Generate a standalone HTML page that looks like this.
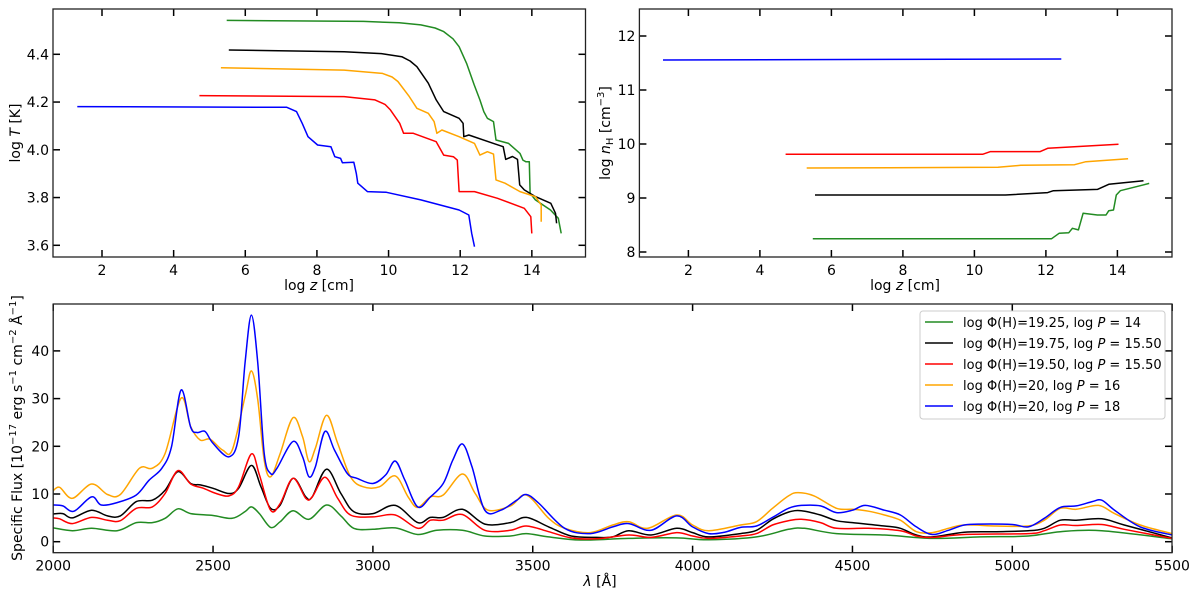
<!DOCTYPE html>
<html><head><meta charset="utf-8"><style>
body{margin:0;background:#fff;}
svg{display:block;font-family:"DejaVu Sans","Liberation Sans",sans-serif;}
.tk{font-size:14px;fill:#000;}
.lab{font-size:14px;fill:#000;}
</style></head><body>
<svg id="fig" width="1200" height="594" viewBox="0 0 1200 594" xmlns="http://www.w3.org/2000/svg">
<g id="p1"></g>
<g id="p2"></g>
<g id="p3"></g>
<g id="legend">
<rect x="920" y="311" width="245" height="108" fill="#fff" stroke="#ccc" rx="3"/>
</g>
</svg>
<script>
// ---- Panel 1: log T vs log z ----
const tGreenX=[5.48,9.3,10.3,10.9,11.3,11.54,11.8,11.97,12.18,12.39,12.55,12.66,12.76,12.93,13.0,13.35,13.67,13.75,13.83,13.93,13.95,14.1,14.52,14.74,14.82];
const tGreenY=[4.542,4.538,4.532,4.523,4.51,4.495,4.465,4.432,4.362,4.272,4.209,4.16,4.132,4.118,4.041,4.027,3.985,3.957,3.95,3.95,3.818,3.79,3.748,3.713,3.65];
const tBlackX=[5.54,8.76,9.8,10.37,10.6,10.79,11.11,11.33,11.54,11.97,12.08,12.1,12.24,12.93,13.2,13.27,13.46,13.6,13.66,13.79,14.1,14.53,14.66,14.69];
const tBlackY=[4.418,4.411,4.403,4.39,4.372,4.348,4.279,4.209,4.16,4.132,4.111,4.055,4.062,4.027,4.013,3.96,3.972,3.96,3.853,3.832,3.804,3.776,3.734,3.692];
const tOrangeX=[5.32,8.76,9.83,10.1,10.26,10.58,10.79,11.11,11.27,11.35,11.49,11.97,12.4,12.55,12.76,12.93,13.0,13.25,13.67,14.1,14.26,14.26];
const tOrangeY=[4.344,4.334,4.32,4.305,4.286,4.223,4.174,4.153,4.118,4.069,4.083,4.055,4.027,3.978,3.992,3.982,3.874,3.86,3.825,3.804,3.769,3.699];
const tRedX=[4.72,8.76,9.62,9.9,10.05,10.31,10.42,10.69,11.33,11.54,11.81,11.92,11.97,12.4,13.04,13.79,13.97,14.0];
const tRedY=[4.227,4.223,4.209,4.19,4.167,4.111,4.069,4.069,4.034,3.978,3.971,3.957,3.825,3.825,3.797,3.755,3.72,3.65];
const tBlueX=[1.31,7.16,7.43,7.59,7.75,8.02,8.39,8.5,8.66,8.71,9.03,9.1,9.14,9.41,9.94,10.9,11.97,12.24,12.32,12.4];
const tBlueY=[4.181,4.178,4.16,4.111,4.055,4.02,4.013,3.971,3.964,3.946,3.948,3.901,3.86,3.825,3.822,3.79,3.748,3.727,3.65,3.594];
const p1XTicks=[2,4,6,8,10,12,14];
const p1YTicks=[3.6,3.8,4.0,4.2,4.4];
// ---- Panel 2: log nH vs log z ----
const nBlueX=[1.29,12.43];const nBlueY=[11.556,11.574];
const nRedX=[4.72,10.23,10.45,11.84,12.05,14.03];const nRedY=[9.81,9.81,9.86,9.86,9.92,9.994];
const nOrangeX=[5.31,10.66,11.3,12.8,13.12,14.3];const nOrangeY=[9.556,9.568,9.605,9.617,9.673,9.728];
const nBlackX=[5.54,10.87,12.05,12.21,13.44,13.76,14.73];const nBlackY=[9.056,9.056,9.1,9.136,9.16,9.253,9.32];
const nGreenX=[5.48,12.16,12.37,12.64,12.74,12.91,13.04,13.44,13.68,13.76,13.89,13.97,14.08,14.89];
const nGreenY=[8.247,8.247,8.346,8.358,8.438,8.41,8.716,8.685,8.685,8.765,8.778,9.056,9.136,9.27];
const p2XTicks=[2,4,6,8,10,12,14];
const p2YTicks=[8,9,10,11,12];
// ---- Panel 3: flux spectra ----
const fBlueL=[2000,2030,2065,2120,2150,2200,2260,2300,2340,2370,2400,2430,2450,2475,2500,2550,2580,2600,2620,2640,2660,2680,2700,2750,2780,2800,2820,2850,2880,2920,2950,3000,3040,3070,3100,3140,3180,3220,3250,3280,3310,3350,3400,3450,3480,3520,3600,3680,3750,3800,3870,3950,4000,4050,4100,4150,4200,4250,4300,4340,4400,4450,4500,4540,4600,4650,4700,4750,4800,4850,4900,5000,5050,5100,5150,5200,5250,5280,5320,5400,5500];
const fBlueV=[7.7,7.5,6.4,9.4,7.7,8.2,9.8,12.9,15.4,19.9,31.8,24,22.9,23.1,20.6,17.8,22,37.4,47.5,37.4,18.5,14.3,15.4,21,17.8,13.6,15.7,23.1,19.2,14.3,13.3,12.2,14,16.9,12.9,7.3,9.4,12.2,17.1,20.5,15.7,6.6,6.6,8.7,9.9,8,2.8,1.7,3.1,3.8,2.4,5.4,3.1,1.7,2,3.0,3.3,5.1,7,7.6,7.5,6.1,6.6,7.6,6.6,5.6,3.1,1.5,2.4,3.5,3.7,3.6,3.1,4.9,7.2,7.5,8.4,8.7,6.6,3.1,1.4];
const fOrangeL=[2000,2020,2060,2120,2170,2210,2270,2310,2350,2400,2430,2460,2490,2530,2560,2600,2620,2640,2660,2680,2710,2750,2780,2800,2820,2855,2890,2930,2970,3020,3070,3110,3140,3180,3220,3280,3320,3360,3430,3480,3550,3600,3680,3750,3800,3860,3950,4000,4050,4150,4200,4250,4300,4330,4380,4450,4500,4550,4600,4650,4700,4750,4800,4850,4950,5050,5100,5150,5200,5270,5320,5400,5500];
const fOrangeV=[10.7,11.4,9.1,12.1,9.9,9.9,15.4,15.4,18.5,30.1,24.1,21.3,21.5,19.2,19.2,30.4,35.8,29.7,17.1,13.6,18.5,26,22,16.8,19.6,26.5,20.6,13.6,11.5,11.5,13.8,9.4,7.2,9.4,9.8,14.2,10.1,6.6,7.5,9.8,4.9,2.8,1.9,3.5,4.2,2.8,5.6,3.5,2.3,3.5,4.2,7,9.6,10.3,9.6,7,6.8,6.4,5.6,4.5,2.1,1.9,2.8,3.5,3.3,3.3,4.5,7,6.8,7.6,5.9,3.5,1.7];
const fBlackL=[2000,2030,2060,2120,2170,2210,2260,2310,2350,2390,2430,2460,2500,2550,2580,2620,2650,2680,2710,2750,2790,2810,2855,2900,2940,3000,3070,3140,3180,3220,3280,3350,3430,3480,3550,3620,3700,3750,3800,3870,3950,4000,4050,4150,4200,4250,4300,4340,4400,4450,4500,4600,4650,4700,4750,4850,4950,5050,5100,5150,5200,5280,5350,5500];
const fBlackV=[5.8,5.9,5,6.6,5.4,5.4,8.4,8.7,10.8,14.7,12.2,11.9,11.2,10.1,11.2,16,11.5,7,7.7,13.3,9.4,9.4,15.2,10.1,6.3,5.9,7.6,4,5.1,5.1,6.8,3.7,4,5.1,3.1,1.2,0.9,1,2.3,1.4,2.8,1.9,1,1.7,2.4,4.7,6.2,6.5,5.6,4.4,4,3.3,2.8,1.4,1,2,2.1,2.3,2.8,4.5,4.5,4.8,3.5,0.8];
const fRedL=[2000,2020,2060,2120,2170,2210,2260,2310,2350,2390,2430,2470,2510,2550,2580,2620,2645,2680,2710,2750,2790,2810,2850,2890,2930,3000,3070,3140,3180,3220,3280,3350,3430,3480,3550,3620,3700,3800,3870,3950,4000,4050,4150,4200,4250,4300,4340,4400,4450,4550,4650,4700,4750,4850,5050,5100,5150,5200,5280,5350,5500];
const fRedV=[5,4.8,3.8,5.1,4.5,4.4,7,7.3,10.1,14.9,12.1,11.2,10.1,9.6,11.5,18.4,14,6.6,8,13.3,9.1,9.4,13.5,9.1,5.6,5.2,5.6,2.8,4.5,4.5,5.7,2.4,2.4,3.3,2.1,0.8,0.6,1.4,0.9,1.9,1.2,0.7,1.2,1.7,3.5,4.4,4.7,4,2.8,2.8,2.3,1.2,0.9,1.5,1.7,2.3,3.5,3.4,3.6,2.6,0.7];
const fGreenL=[2000,2060,2120,2200,2260,2310,2350,2390,2430,2500,2560,2600,2620,2645,2680,2710,2750,2800,2855,2900,2940,3000,3070,3140,3200,3280,3350,3430,3480,3550,3650,3800,3950,4050,4200,4300,4350,4450,4600,4750,4900,5050,5150,5280,5500];
const fGreenV=[2.9,2.3,2.8,2.3,4,4,4.9,6.9,5.9,5.5,4.9,6.3,7.3,5.9,3,4.2,6.5,4.7,7.7,5.4,2.8,2.6,2.9,1.5,2.4,2.4,1.2,1.2,1.7,1,0.35,0.7,0.8,0.4,1,2.6,2.8,1.7,1.4,0.7,1,1.2,2.1,2.3,0.6];
const p3XTicks=[2000,2500,3000,3500,4000,4500,5000,5500];
const p3YTicks=[0,10,20,30,40];
const legendLabels=[["19.25","14"],["19.75","15.50"],["19.50","15.50"],["20","16"],["20","18"]];
const legendColors=["#228b22","#000","#ff0000","#ffa500","#0000ff"];

const NS="http://www.w3.org/2000/svg";
function mk(parent,tag,attrs){const e=document.createElementNS(NS,tag);for(const k in attrs)e.setAttribute(k,attrs[k]);parent.appendChild(e);return e;}
function frame(g,box,sx,sy,xt,yt,xfmt,yfmt,name){
  const clip=mk(g,'clipPath',{id:'c'+name});mk(clip,'rect',{x:box.l,y:box.t,width:box.r-box.l,height:box.b-box.t});
  const xa=mk(g,'g',{});
  
  
  xt.forEach(v=>{const x=sx(v);
    mk(xa,'line',{x1:x,x2:x,y1:box.b,y2:box.b-7,stroke:'#000','stroke-width':1.5});
    mk(xa,'line',{x1:x,x2:x,y1:box.t,y2:box.t+7,stroke:'#000','stroke-width':1.5});
    const t=mk(xa,'text',{x:x,y:box.b+18,'text-anchor':'middle',class:'tk'});t.textContent=xfmt(v);});
  const ya=mk(g,'g',{});
  
  
  yt.forEach(v=>{const y=sy(v);
    mk(ya,'line',{x1:box.l,x2:box.l+7,y1:y,y2:y,stroke:'#000','stroke-width':1.5});
    mk(ya,'line',{x1:box.r,x2:box.r-7,y1:y,y2:y,stroke:'#000','stroke-width':1.5});
    const t=mk(ya,'text',{x:box.l-4,y:y+5,'text-anchor':'end',class:'tk'});t.textContent=yfmt(v);});
}
function border(g,box){mk(g,'rect',{x:box.l,y:box.t,width:box.r-box.l,height:box.b-box.t,fill:'none',stroke:'#222','stroke-width':1.3});}
function poly(g,xs,ys,sx,sy,color,name,clipId){
  const pts=xs.map((x,i)=>sx(x).toFixed(1)+','+sy(ys[i]).toFixed(1)).join(' ');
  const p=mk(g,'polyline',{points:pts,fill:'none',stroke:color,'stroke-width':1.5,'stroke-linejoin':'round','clip-path':'url(#'+clipId+')'});
  
  
}
function smooth(g,xs,ys,sx,sy,color,name,clipId){
  const P=xs.map((x,i)=>[sx(x),sy(ys[i])]);
  let d='M'+P[0][0].toFixed(1)+','+P[0][1].toFixed(1);
  for(let i=0;i<P.length-1;i++){
    const p0=P[Math.max(0,i-1)],p1=P[i],p2=P[i+1],p3=P[Math.min(P.length-1,i+2)];
    const c1=[p1[0]+(p2[0]-p0[0])/6,p1[1]+(p2[1]-p0[1])/6];
    const c2=[p2[0]-(p3[0]-p1[0])/6,p2[1]-(p3[1]-p1[1])/6];
    d+=' C'+c1[0].toFixed(1)+','+c1[1].toFixed(1)+' '+c2[0].toFixed(1)+','+c2[1].toFixed(1)+' '+p2[0].toFixed(1)+','+p2[1].toFixed(1);
  }
  const p=mk(g,'path',{d:d,fill:'none',stroke:color,'stroke-width':1.5,'clip-path':'url(#'+clipId+')'});
  
  
}
// Panel 1
(function(){const g=document.getElementById('p1');const box={l:53,r:585.5,t:9,b:257};
 const sx=v=>box.l+(v-0.632)*35.82, sy=v=>54.3-(v-4.4)*238.75;
 frame(g,box,sx,sy,p1XTicks,p1YTicks,v=>String(v),v=>v.toFixed(1),'temp');
 poly(g,tGreenX,tGreenY,sx,sy,'#228b22','temp-line-green','ctemp');
 poly(g,tBlackX,tBlackY,sx,sy,'#000','temp-line-black','ctemp');
 poly(g,tOrangeX,tOrangeY,sx,sy,'#ffa500','temp-line-orange','ctemp');
 poly(g,tRedX,tRedY,sx,sy,'#ff0000','temp-line-red','ctemp');
 poly(g,tBlueX,tBlueY,sx,sy,'#0000ff','temp-line-blue','ctemp');
 border(g,box);
 const xl=mk(g,'text',{x:319,y:290,'text-anchor':'middle',class:'lab'});xl.innerHTML='log <tspan font-style="italic">z</tspan> [cm]';
 
 const yl=mk(g,'text',{x:0,y:0,'text-anchor':'middle',class:'lab',transform:'translate(20,133) rotate(-90)'});yl.innerHTML='log <tspan font-style="italic">T</tspan> [K]';
 
})();
// Panel 2
(function(){const g=document.getElementById('p2');const box={l:639.4,r:1172,t:9,b:257};
 const sx=v=>688.4+(v-2)*35.75, sy=v=>252-(v-8)*54;
 frame(g,box,sx,sy,p2XTicks,p2YTicks,v=>String(v),v=>String(v),'dens');
 poly(g,nBlueX,nBlueY,sx,sy,'#0000ff','dens-line-blue','cdens');
 poly(g,nRedX,nRedY,sx,sy,'#ff0000','dens-line-red','cdens');
 poly(g,nOrangeX,nOrangeY,sx,sy,'#ffa500','dens-line-orange','cdens');
 poly(g,nBlackX,nBlackY,sx,sy,'#000','dens-line-black','cdens');
 poly(g,nGreenX,nGreenY,sx,sy,'#228b22','dens-line-green','cdens');
 border(g,box);
 const xl=mk(g,'text',{x:905,y:290,'text-anchor':'middle',class:'lab'});xl.innerHTML='log <tspan font-style="italic">z</tspan> [cm]';
 
 const yl=mk(g,'text',{x:0,y:0,'text-anchor':'middle',class:'lab',transform:'translate(610,133) rotate(-90)'});yl.innerHTML='log <tspan font-style="italic">n</tspan><tspan font-size="10" dy="3">H</tspan><tspan dy="-3"> [cm</tspan><tspan font-size="10" dy="-6">−3</tspan><tspan dy="6">]</tspan>';
 
})();
// Panel 3
(function(){const g=document.getElementById('p3');const box={l:53.2,r:1172,t:304,b:552.7};
 const sx=v=>53.2+(v-2000)*0.3197, sy=v=>541.7-v*4.77;
 frame(g,box,sx,sy,p3XTicks,p3YTicks,v=>String(v),v=>String(v),'flux');
 smooth(g,fGreenL,fGreenV,sx,sy,'#228b22','flux-line-green','cflux');
 smooth(g,fBlackL,fBlackV,sx,sy,'#000','flux-line-black','cflux');
 smooth(g,fRedL,fRedV,sx,sy,'#ff0000','flux-line-red','cflux');
 smooth(g,fOrangeL,fOrangeV,sx,sy,'#ffa500','flux-line-orange','cflux');
 smooth(g,fBlueL,fBlueV,sx,sy,'#0000ff','flux-line-blue','cflux');
 border(g,box);
 const xl=mk(g,'text',{x:600,y:586,'text-anchor':'middle',class:'lab'});xl.innerHTML='<tspan font-style="italic">λ</tspan> [Å]';
 
 const yl=mk(g,'text',{x:0,y:0,'text-anchor':'middle',class:'lab',transform:'translate(22,428) rotate(-90)'});
 yl.innerHTML='Specific Flux [10<tspan font-size="10" dy="-6">−17</tspan><tspan dy="6"> erg s</tspan><tspan font-size="10" dy="-6">−1</tspan><tspan dy="6"> cm</tspan><tspan font-size="10" dy="-6">−2</tspan><tspan dy="6"> Å</tspan><tspan font-size="10" dy="-6">−1</tspan><tspan dy="6">]</tspan>';
 
})();
// Legend
(function(){const g=document.getElementById('legend');
 legendLabels.forEach((lb,i)=>{const y=322+i*21;
  const e=mk(g,'g',{});
  
  
  mk(e,'line',{x1:925,x2:953,y1:y,y2:y,stroke:legendColors[i],'stroke-width':1.5});
  const t=mk(e,'text',{x:963,y:y+5,style:'font-size:13px'});
  t.innerHTML='log Φ(H)='+lb[0]+', log <tspan font-style="italic">P</tspan> = '+lb[1];
 });
})();
</script>
</body></html>
